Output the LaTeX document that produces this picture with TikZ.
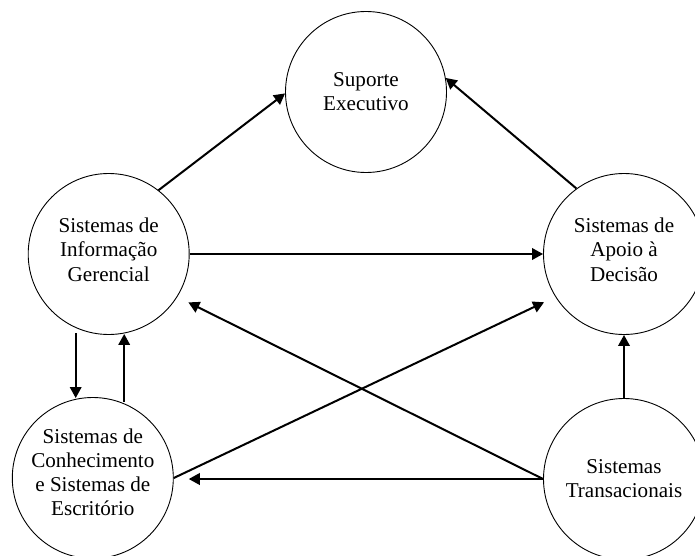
\documentclass[tikz,border=0pt]{standalone}
\usepackage{fontspec}
\setmainfont{Liberation Serif}
\usetikzlibrary{arrows.meta,calc}
\begin{document}
\begin{tikzpicture}[x=1pt,y=-1pt,
  sys/.style={circle,draw,line width=0.9pt,minimum size=161pt,inner sep=0pt,
    align=center,font=\fontsize{21.1pt}{24.2pt}\selectfont},
  arr/.style={line width=2pt,-{Triangle[length=11pt,width=11.5pt]}}]
\fill[white] (0,0) rectangle (695,556);
\useasboundingbox (0,0) rectangle (695,556);

% the five kinds of information systems
\node[sys] (se) at (366,92) {Suporte\\Executivo};
\node[sys,text depth=9pt] (sig) at (108.7,254) {Sistemas de\\Informação\\Gerencial};
\node[sys,text depth=9pt] (sad) at (624,254) {Sistemas de\\Apoio à\\Decisão};
\node[sys,text depth=12pt] (sc) at (92.8,478) {Sistemas de\\Conhecimento\\e Sistemas de\\Escritório};
\node[sys] (st) at (624,479) {Sistemas\\Transacionais};

% flows towards executive support
\draw[arr] (sig.52.7) -- (se.181);
\draw[arr] (sad.126.6) -- (se.10.8);

% management information to decision support
\draw[arr] (sig.east) -- (sad.west);

% transaction systems feed the others
\draw[arr,shorten >=12.3pt] (st.west) -- (sig.-32);
\draw[arr,shorten >=15pt] (st.west) -- (st.west -| sc.east);
\draw[arr] (st.north) -- (sad.south);

% knowledge/office systems to decision support
\draw[arr,shorten >=12.5pt] (sc.east) -- (sad.212);

% exchange between management information and knowledge/office systems
\draw[arr] ($(sig.south)+(-33,-1.5)$) -- ($(sig.south |- sc.north)+(-33,1)$);
\draw[arr] ($(sig.south |- sc.north)+(15.5,4.5)$) -- ($(sig.south)+(15.5,-1)$);
\end{tikzpicture}
\end{document}
